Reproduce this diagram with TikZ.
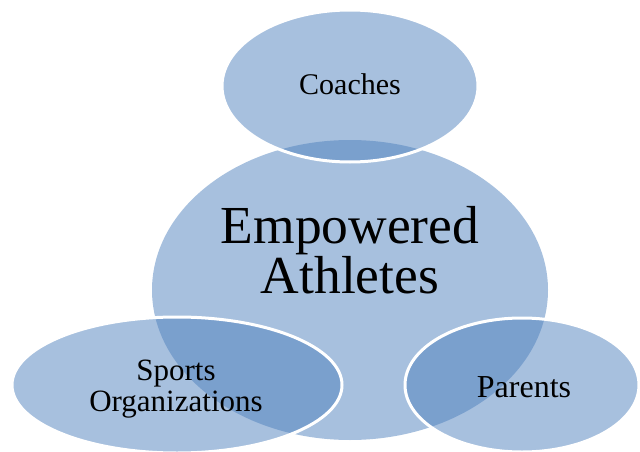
\documentclass[tikz,border=0pt]{standalone}
\usepackage{fontspec}
\setmainfont{Liberation Serif}
\usetikzlibrary{shapes.geometric}
\definecolor{vennblue}{RGB}{79,129,189}
\tikzset{
  venn/.style={ellipse, inner sep=0pt, fill=vennblue, fill opacity=0.5, text opacity=1, align=center, text=black},
  outlined/.style={venn, draw=white, draw opacity=1, line width=3pt}
}
\begin{document}
\begin{tikzpicture}[x=1pt,y=-1pt]
\useasboundingbox (0,0) rectangle (640,452);
\node[venn, minimum width=396pt, minimum height=300pt] (center) at (350,290) {};
\node[outlined, minimum width=256pt, minimum height=152pt] (coaches) at (350,86) {};
\node[outlined, minimum width=330pt, minimum height=136pt] (sports) at (177,385) {};
\node[outlined, minimum width=234pt, minimum height=134pt] (parents) at (522,385) {};
\node[align=center, font=\fontsize{53.5}{48}\selectfont] (centertext) at (350,250) {Empowered\\Athletes};
\node[font=\fontsize{30}{30}\selectfont] (coachestext) at (350,84) {Coaches};
\node[align=center, font=\fontsize{31}{31}\selectfont] (sportstext) at (176,389) {Sports\\Organizations};
\node[font=\fontsize{32}{32}\selectfont] (parentstext) at (524,387) {Parents};
\end{tikzpicture}
\end{document}
